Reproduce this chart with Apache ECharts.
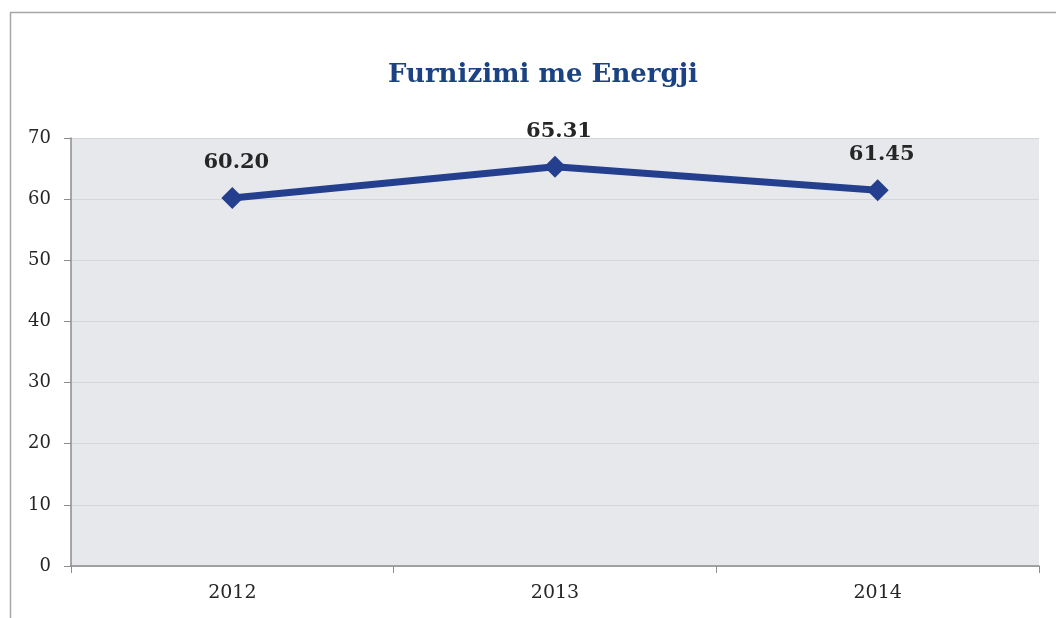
<!DOCTYPE html>
<html><head><meta charset="utf-8">
<script src="https://cdn.jsdelivr.net/npm/echarts@6/dist/echarts.min.js"></script>
<style>html,body{margin:0;padding:0;background:#fff}#c{width:1056px;height:618px}</style>
</head><body><div id="c"></div>
<script>
var categories = ['2012', '2013', '2014'];
var values = [60.20, 65.31, 61.45];
var titleText = 'Furnizimi me Energji';
var yTicks = [0, 10, 20, 30, 40, 50, 60, 70];

var chart = echarts.init(document.getElementById('c'));
var serif = '"DejaVu Serif", "Liberation Serif", serif';
chart.setOption({
  animation: false,
  backgroundColor: '#ffffff',
  title: {
    text: titleText, left: 538, top: 57, textAlign: 'center',
    textStyle: { fontFamily: serif, fontWeight: 'bold', fontSize: 26, color: '#1b4383' }
  },
  graphic: [{
    type: 'rect', shape: { x: 10.5, y: 12.5, width: 1100, height: 700 },
    style: { fill: 'none', stroke: '#a6a6a6', lineWidth: 1.5 }, silent: true
  }],
  grid: { left: 71, right: 17, top: 138, bottom: 52, show: true, backgroundColor: '#e7e8eb', borderWidth: 0 },
  xAxis: {
    type: 'category', data: categories, boundaryGap: true,
    axisLine: { show: true, lineStyle: { color: '#8c8c8c', width: 1.5 } },
    axisTick: { show: true, length: 7, inside: false, alignWithLabel: false, lineStyle: { color: '#8c8c8c' } },
    axisLabel: { fontFamily: serif, fontSize: 19, color: '#262626', margin: 18 }
  },
  yAxis: {
    type: 'value', min: yTicks[0], max: yTicks[yTicks.length - 1], interval: 10,
    axisLine: { show: true, lineStyle: { color: '#8c8c8c', width: 1.5 } },
    axisTick: { show: true, length: 7, lineStyle: { color: '#8c8c8c' } },
    axisLabel: { fontFamily: serif, fontSize: 18, color: '#262626', margin: 20 },
    splitLine: { show: true, lineStyle: { color: '#d5d6d9', width: 1 } }
  },
  series: [{
    type: 'line', data: values,
    lineStyle: { color: '#253f8f', width: 7 },
    itemStyle: { color: '#253f8f' },
    symbol: 'diamond', symbolSize: 22, showAllSymbol: true,
    label: {
      show: true, position: 'top', distance: 14, offset: [4, 0],
      formatter: function (p) { return p.value.toFixed(2); },
      fontFamily: serif, fontWeight: 'bold', fontSize: 21, color: '#262626'
    }
  }]
});
</script></body></html>
